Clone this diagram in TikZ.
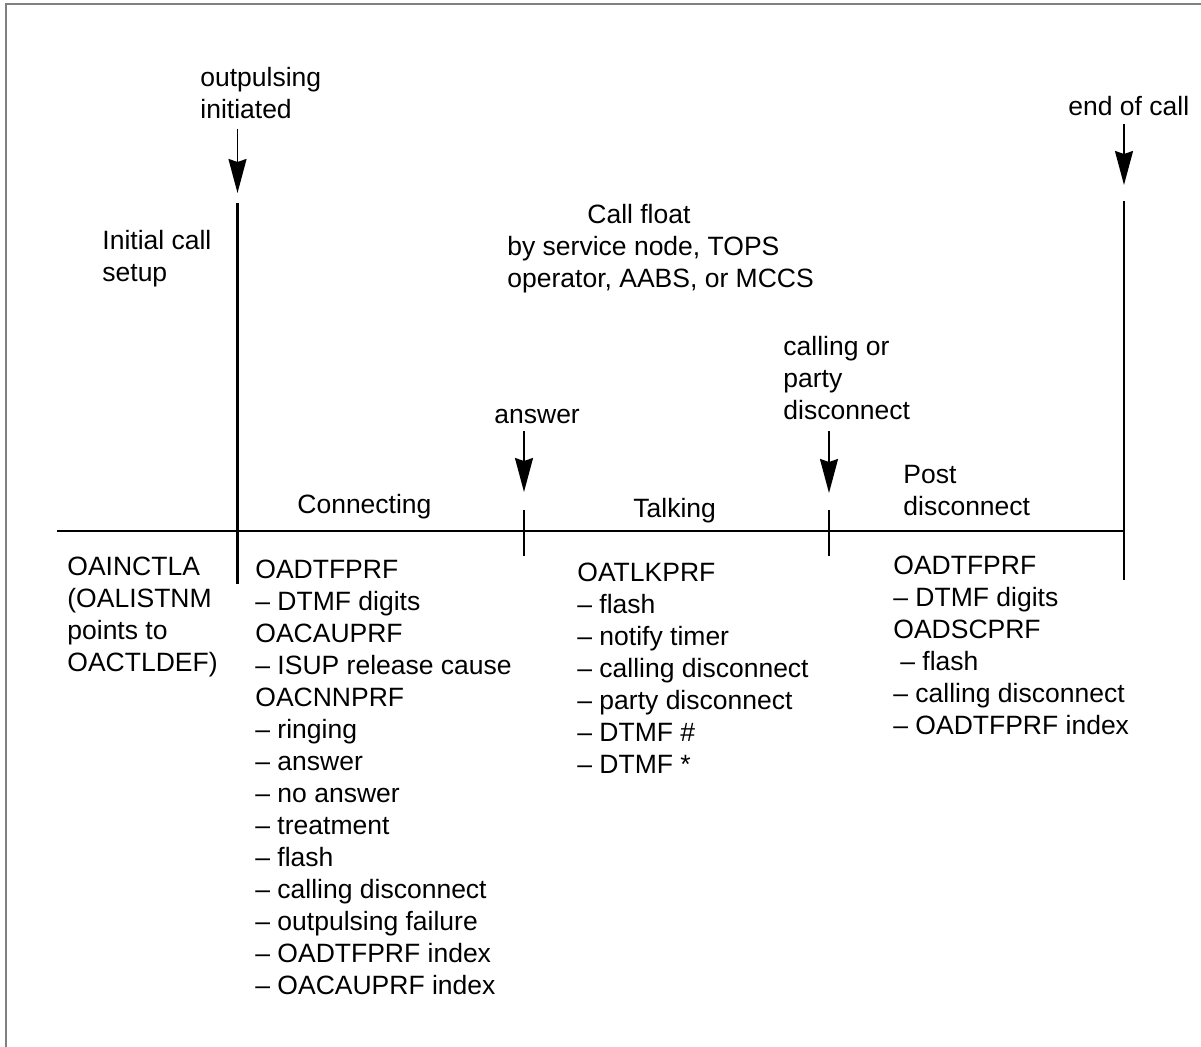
\documentclass[tikz,border=0pt]{standalone}
\usepackage{fontspec}
\setmainfont{Liberation Sans}
\usetikzlibrary{arrows.meta, positioning, calc}
\tikzset{
    timeline/.style={line width=1.4pt},
    event/.style={-{Stealth[length=17pt, width=9pt, inset=1.5pt]}, line width=0.9pt},
    % text blocks: placed by their top left corner, first baseline 22.4 units below
    lbl/.style={inner sep=0pt, align=left, anchor=north west,
        font=\fontsize{13.25}{16}\selectfont, execute at begin node=\strut},
}

\begin{document}
\begin{tikzpicture}[x=0.5pt, y=-0.5pt]
    \useasboundingbox (0,0) rectangle (1201,1047);
    \draw[gray, line width=0.75pt] (6,1047) -- (6,4) -- (1201,4);

    % time line and phase marks
    \coordinate (lineL) at (57,531);
    \coordinate (lineR) at (1124,531);
    \coordinate (opTop) at (237.5,203);
    \coordinate (opBot) at (237.5,584);
    \coordinate (ansTop) at (524,510);
    \coordinate (ansBot) at (524,556);
    \coordinate (discTop) at (829,510);
    \coordinate (discBot) at (829,556);
    \coordinate (endTop) at (1124,201);
    \coordinate (endBot) at (1124,580);

    \draw[timeline] (lineL) -- (lineR);
    \draw[timeline] (opTop) -- (opBot);
    \draw[timeline] (ansTop) -- (ansBot);
    \draw[timeline] (discTop) -- (discBot);
    \draw[timeline] (endTop) -- (endBot);

    % events
    \node[lbl] (outpulse) at (200,66.6) {outpulsing\\initiated};
    \node[lbl] (endcall) at (1068,92.6) {end of call};
    \node[lbl] (answer) at (494,400.6) {answer};
    \node[lbl] (discon) at (783,335.6) {calling or\\party\\disconnect};

    \coordinate (opFrom) at (237.5,129);
    \coordinate (opTo) at (237.5,193);
    \coordinate (endFrom) at (1124,124);
    \coordinate (endTo) at (1124,185);
    \coordinate (ansFrom) at (524,431);
    \coordinate (ansTo) at (524,492);
    \coordinate (discFrom) at (829,431);
    \coordinate (discTo) at (829,493);

    \draw[event] (opFrom) -- (opTo);
    \draw[event] (endFrom) -- (endTo);
    \draw[event] (ansFrom) -- (ansTo);
    \draw[event] (discFrom) -- (discTo);

    % phases
    \node[lbl] (initial) at (102,229.6) {Initial call\\setup};
    \node[lbl] (float) at (507,204) {\hspace*{40pt}Call float\\by service node, TOPS\\operator, AABS, or MCCS};
    \node[lbl] (connecting) at (297,490.6) {Connecting};
    \node[lbl] (talking) at (633,494.6) {Talking};
    \node[lbl] (post) at (903,464.6) {Post\\disconnect};

    % data blocks
    \node[lbl] (setupList) at (67,556.6) {OAINCTLA\\(OALISTNM\\points to\\OACTLDEF)};
    \node[lbl] (connList) at (255,559.6) {OADTFPRF\\\textendash{} DTMF digits\\OACAUPRF\\\textendash{} ISUP release cause\\OACNNPRF\\\textendash{} ringing\\\textendash{} answer\\\textendash{} no answer\\\textendash{} treatment\\\textendash{} flash\\\textendash{} calling disconnect\\\textendash{} outpulsing failure\\\textendash{} OADTFPRF index\\\textendash{} OACAUPRF index};
    \node[lbl] (talkList) at (577,562.6) {OATLKPRF\\\textendash{} flash\\\textendash{} notify timer\\\textendash{} calling disconnect\\\textendash{} party disconnect\\\textendash{} DTMF \#\\\textendash{} DTMF *};
    \node[lbl] (postList) at (893,555.6) {OADTFPRF\\\textendash{} DTMF digits\\OADSCPRF\\\hspace*{3.5pt}\textendash{} flash\\\textendash{} calling disconnect\\\textendash{} OADTFPRF index};
\end{tikzpicture}
\end{document}
